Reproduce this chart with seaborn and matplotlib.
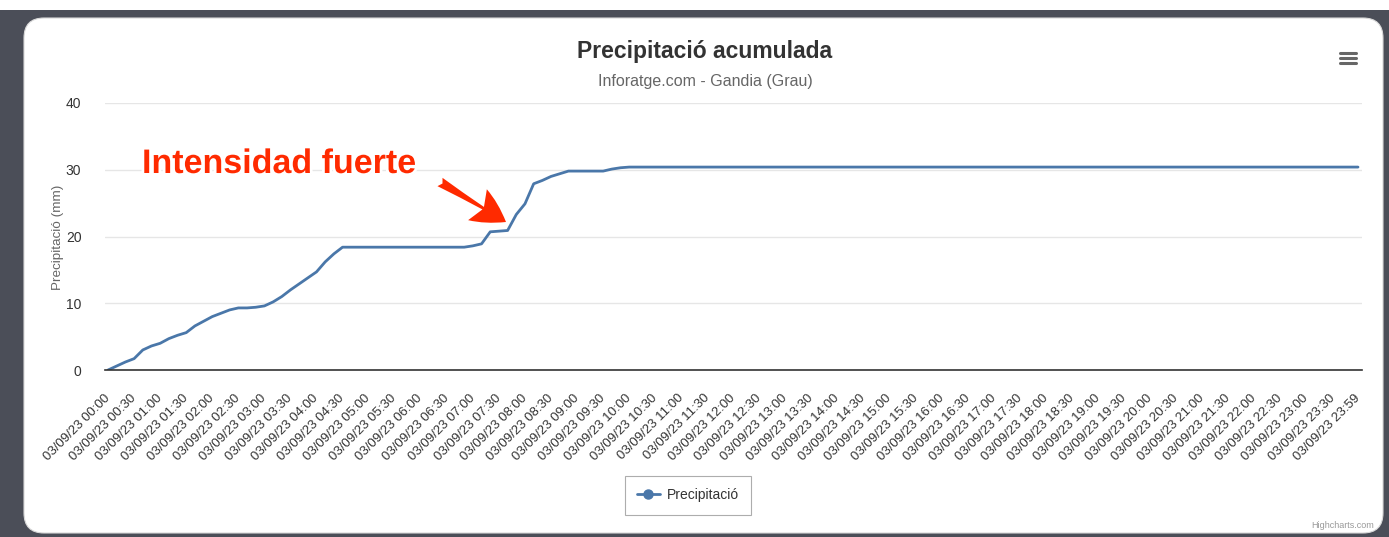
import matplotlib
matplotlib.use("Agg")
import matplotlib.pyplot as plt
import seaborn as sns
import pandas as pd
from matplotlib.patches import FancyBboxPatch, Rectangle, FancyArrowPatch
from matplotlib.lines import Line2D
from matplotlib.transforms import IdentityTransform
import matplotlib.patheffects as pe

# ---------------- data ----------------
title = "Precipitació acumulada"
subtitle = "Inforatge.com - Gandia (Grau)"
y_label = "Precipitació (mm)"
series_name = "Precipitació"
date_prefix = "03/09/23"
annotation_text = "Intensidad fuerte"

times = ["00:00", "00:10", "00:20", "00:30", "00:40", "00:50", "01:00", "01:10", "01:20", "01:30",
         "01:40", "01:50", "02:00", "02:10", "02:20", "02:30", "02:40", "02:50", "03:00", "03:10",
         "03:20", "03:30", "03:40", "03:50", "04:00", "04:10", "04:20", "04:30", "05:00", "05:30",
         "06:00", "06:30", "06:50", "07:00", "07:10", "07:20", "07:30", "07:40", "07:50", "08:00",
         "08:10", "08:20", "08:30", "08:40", "08:50", "09:00", "09:30", "09:40", "09:50", "10:00",
         "12:00", "15:00", "18:00", "21:00", "23:59"]
values = [0.0, 0.6, 1.2, 1.7, 3.0, 3.6, 4.0, 4.7, 5.2, 5.6,
          6.6, 7.3, 8.0, 8.5, 9.0, 9.3, 9.3, 9.4, 9.6, 10.2,
          11.0, 12.0, 12.9, 13.8, 14.7, 16.2, 17.4, 18.4, 18.4, 18.4,
          18.4, 18.4, 18.4, 18.6, 18.9, 20.7, 20.8, 20.9, 23.3, 24.9,
          27.9, 28.4, 29.0, 29.4, 29.8, 29.8, 29.8, 30.1, 30.3, 30.4,
          30.4, 30.4, 30.4, 30.4, 30.4]
tick_times = ["00:00", "00:30", "01:00", "01:30", "02:00", "02:30", "03:00", "03:30", "04:00", "04:30",
              "05:00", "05:30", "06:00", "06:30", "07:00", "07:30", "08:00", "08:30", "09:00", "09:30",
              "10:00", "10:30", "11:00", "11:30", "12:00", "12:30", "13:00", "13:30", "14:00", "14:30",
              "15:00", "15:30", "16:00", "16:30", "17:00", "17:30", "18:00", "18:30", "19:00", "19:30",
              "20:00", "20:30", "21:00", "21:30", "22:00", "22:30", "23:00", "23:30", "23:59"]
y_ticks = [0, 10, 20, 30, 40]


def to_min(s):
    h, m = s.split(":")
    return int(h) * 60 + int(m)


df = pd.DataFrame({"minute": [to_min(t) for t in times], "mm": values})

# ---------------- style ----------------
sns.set_theme(style="white")
plt.rcParams["font.family"] = ["Liberation Sans", "DejaVu Sans"]

W, H = 1389, 537
LINE = "#4a77a9"
fig = plt.figure(figsize=(W / 100, H / 100), dpi=100)
fig.patch.set_facecolor("white")


def fx(px):
    return px / W


def fy(py):
    return 1 - py / H


# outer dark frame and white rounded card
fig.add_artist(Rectangle((0, 0), 1, fy(10), transform=fig.transFigure,
                         facecolor="#4b4e58", edgecolor="none", zorder=-10))
fig.add_artist(FancyBboxPatch((24, H - 533), 1383 - 24, 533 - 18,
                              boxstyle="round,pad=0,rounding_size=20",
                              transform=IdentityTransform(),
                              facecolor="white", edgecolor="#d8d8d8", linewidth=0.8, zorder=-9))

ax = fig.add_axes([fx(105), fy(370), fx(1362) - fx(105), fy(103) - fy(370)])
ax.set_facecolor("none")

sns.lineplot(data=df, x="minute", y="mm", ax=ax, color=LINE, linewidth=2.0, legend=False)

ax.set_ylim(0, 40)
ax.set_xlim(-3.5, 1443.6)
ax.set_yticks(y_ticks)
ax.set_yticklabels([str(v) for v in y_ticks])
ax.set_xticks([to_min(t) for t in tick_times])
ax.set_xticklabels([f"{date_prefix} {t}" for t in tick_times], rotation=45,
                   ha="right", va="center", rotation_mode="anchor")
ax.tick_params(axis="x", length=0, pad=19, labelsize=9.5, labelcolor="#333333")
ax.tick_params(axis="y", length=0, pad=17, labelsize=10, labelcolor="#333333")
ax.grid(axis="y", color="#e6e6e6", linewidth=1)
ax.grid(axis="x", visible=False)
for s in ["top", "right", "left"]:
    ax.spines[s].set_visible(False)
ax.spines["bottom"].set_color("#333333")
ax.spines["bottom"].set_linewidth(1.2)
ax.set_xlabel("")
ax.set_ylabel("")

fig.text(fx(58), fy(237), y_label, rotation=90, ha="center", va="center",
         fontsize=9.7, color="#666666")

# titles
fig.text(fx(705), fy(58), title, ha="center", va="baseline", fontsize=16.5,
         fontweight="bold", color="#333333")
fig.text(fx(705), fy(86), subtitle, ha="center", va="baseline", fontsize=11.5,
         color="#666666")

# annotation
fig.text(fx(142), fy(173), annotation_text, ha="left", va="baseline", fontsize=24.5,
         fontweight="bold", color="#ff2a00",
         path_effects=[pe.withSimplePatchShadow(offset=(1.2, -1.2), shadow_rgbFace="#000000", alpha=0.25),
                       pe.Stroke(linewidth=4, foreground="white"), pe.Normal()])
arrow = FancyArrowPatch((440, H - 182), (506, H - 222), transform=IdentityTransform(),
                        arrowstyle="fancy,head_length=2.4,head_width=2.6,tail_width=0.7",
                        mutation_scale=10, color="#ff2a00", shrinkA=0, shrinkB=0, linewidth=0)
fig.add_artist(arrow)

# legend
handle = Line2D([], [], color=LINE, linewidth=2.0, marker="o", markersize=6.5)
leg = fig.legend([handle], [series_name], loc="center", bbox_to_anchor=(fx(688), fy(495)),
                 frameon=True, fancybox=False, fontsize=10, handlelength=1.6,
                 borderpad=0.85, handletextpad=0.5, borderaxespad=0)
leg.get_frame().set_edgecolor("#999999")
leg.get_frame().set_linewidth(0.8)
leg._legend_box.sep = 5
for t in leg.get_texts():
    t.set_color("#333333")
# widen the legend box horizontally a little
leg._legend_box.pad = 9

# credits and menu icon
fig.text(fx(1374), fy(525), "Highcharts.com", ha="right", va="center", fontsize=6.5, color="#999999")
for yy in (53, 58, 63):
    fig.add_artist(Line2D([fx(1340), fx(1356)], [fy(yy), fy(yy)], transform=fig.transFigure,
                          color="#666666", linewidth=2.2, solid_capstyle="round"))

fig.savefig("out.png", dpi=100)
